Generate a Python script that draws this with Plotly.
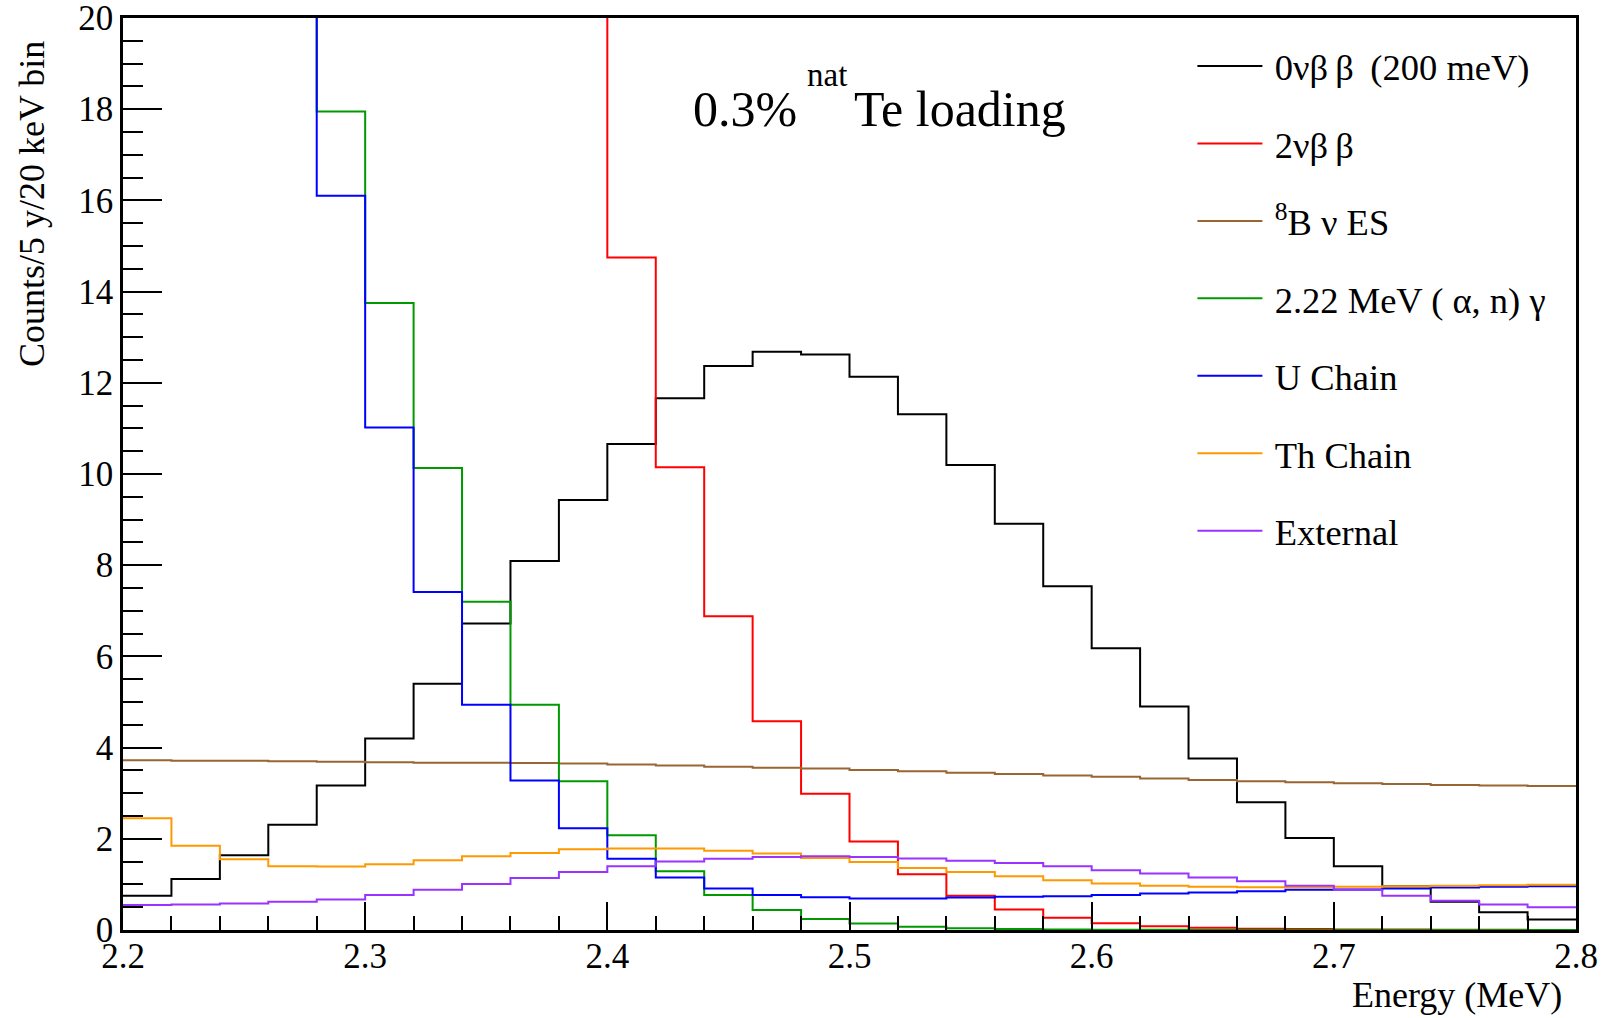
import plotly.graph_objects as go

# Bin edges (MeV), 20 keV bins
edges = [2.20, 2.22, 2.24, 2.26, 2.28, 2.30, 2.32, 2.34, 2.36, 2.38,
         2.40, 2.42, 2.44, 2.46, 2.48, 2.50, 2.52, 2.54, 2.56, 2.58,
         2.60, 2.62, 2.64, 2.66, 2.68, 2.70, 2.72, 2.74, 2.76, 2.78, 2.80]

# Counts per bin (bins above 20 are off scale in the figure)
zero_nu = [0.75, 1.12, 1.64, 2.31, 3.17, 4.20, 5.40, 6.72, 8.09, 9.43,
           10.66, 11.66, 12.37, 12.68, 12.62, 12.13, 11.31, 10.20, 8.91, 7.54,
           6.18, 4.90, 3.76, 2.80, 2.02, 1.40, 0.96, 0.62, 0.39, 0.23]
two_nu = [390, 270, 185, 128, 88, 61, 45, 33, 26, 21.5,
          14.75, 10.15, 6.88, 4.58, 2.99, 1.94, 1.22, 0.75, 0.45, 0.27,
          0.15, 0.08, 0.05, 0.03, 0.02, 0.01, 0.01, 0.005, 0.003, 0.002]
b8_es = [3.72, 3.71, 3.71, 3.70, 3.69, 3.68, 3.67, 3.67, 3.66, 3.65,
         3.63, 3.61, 3.58, 3.56, 3.54, 3.51, 3.48, 3.45, 3.42, 3.39,
         3.36, 3.32, 3.29, 3.26, 3.24, 3.22, 3.20, 3.18, 3.17, 3.16]
alpha_n = [95, 62, 40, 26, 17.95, 13.75, 10.13, 7.20, 4.94, 3.26,
           2.08, 1.29, 0.77, 0.44, 0.24, 0.14, 0.07, 0.04, 0.02, 0.01,
           0.005, 0.003, 0.002, 0.001, 0, 0, 0, 0, 0, 0]
u_chain = [80, 55, 38, 26, 16.10, 11.02, 7.41, 4.94, 3.28, 2.23,
           1.56, 1.15, 0.91, 0.77, 0.72, 0.69, 0.69, 0.71, 0.73, 0.74,
           0.77, 0.80, 0.82, 0.85, 0.88, 0.89, 0.91, 0.93, 0.95, 0.96]
th_chain = [2.45, 1.85, 1.55, 1.40, 1.39, 1.44, 1.53, 1.62, 1.69, 1.77,
            1.79, 1.79, 1.74, 1.68, 1.58, 1.49, 1.36, 1.27, 1.18, 1.09,
            1.02, 0.97, 0.95, 0.94, 0.93, 0.95, 0.96, 0.97, 0.98, 0.99]
external = [0.55, 0.56, 0.58, 0.62, 0.67, 0.77, 0.88, 1.01, 1.14, 1.27,
            1.40, 1.50, 1.56, 1.60, 1.62, 1.60, 1.57, 1.52, 1.47, 1.40,
            1.31, 1.24, 1.15, 1.07, 0.97, 0.88, 0.75, 0.64, 0.56, 0.50]

names = ["0νβ\u2009β\u2009 (200 meV)", "2νβ\u2009β", "<sup>8</sup>B ν ES", "2.22 MeV ( α, n) γ",
         "U Chain", "Th Chain", "External"]
series = [zero_nu, two_nu, b8_es, alpha_n, u_chain, th_chain, external]
colors = ["#000000", "#ff0000", "#996633", "#009900", "#0000ff", "#ff9900", "#9933ff"]

FONT = "Liberation Serif"

fig = go.Figure()

# One step histogram per component
for i in range(len(series)):
    vals = series[i]
    fig.add_trace(
        go.Scatter(
            x = edges,
            y = vals + [vals[-1]],
            name = "\u2009" + names[i],
            mode = "lines",
            line = dict(color = colors[i], width = 2, shape = "hv"),
            legendgroup = "g%d" % i
        )
    )

axis_style = dict(
    showline = True, linecolor = "black", linewidth = 2.5, mirror = True,
    showgrid = False, zeroline = False, automargin = False,
    ticks = "inside", tickcolor = "black", tickwidth = 2,
    tickfont = dict(family = FONT, size = 35, color = "black"),
    ticklabeloverflow = "allow",
)

fig.update_xaxes(
    range = [2.2, 2.8], tick0 = 2.2, dtick = 0.1, ticklen = 28, ticklabelstandoff = -7,
    minor = dict(ticks = "inside", dtick = 0.02, ticklen = 14, tickwidth = 2, tickcolor = "black"),
    **axis_style
)
fig.update_yaxes(
    range = [0, 20], tick0 = 0, dtick = 2, ticklen = 39,
    minor = dict(ticks = "inside", dtick = 0.5, ticklen = 20, tickwidth = 2, tickcolor = "black"),
    **axis_style
)

# Axis titles (ROOT style, at the end of the axes) and the label
fig.add_annotation(text = "Energy (MeV)", xref = "paper", yref = "paper", x = 0.992, y = -0.0717,
                   xanchor = "right", yanchor = "middle", showarrow = False,
                   font = dict(family = FONT, size = 36, color = "black"))
fig.add_annotation(text = "Counts/5 y/20 keV bin", xref = "paper", yref = "paper", x = -0.063, y = 0.9774,
                   xanchor = "center", yanchor = "top", textangle = -90, showarrow = False,
                   font = dict(family = FONT, size = 36, color = "black"))
fig.add_annotation(text = "0.3%", xref = "paper", yref = "paper", x = 0.391, y = 0.900,
                   xanchor = "left", yanchor = "middle", showarrow = False,
                   font = dict(family = FONT, size = 50, color = "black"))
fig.add_annotation(text = "nat", xref = "paper", yref = "paper", x = 0.4694, y = 0.9376,
                   xanchor = "left", yanchor = "middle", showarrow = False,
                   font = dict(family = FONT, size = 33, color = "black"))
fig.add_annotation(text = "Te loading", xref = "paper", yref = "paper", x = 0.502, y = 0.900,
                   xanchor = "left", yanchor = "middle", showarrow = False,
                   font = dict(family = FONT, size = 50, color = "black"))

fig.update_layout(
    width = 1612, height = 1018,
    margin = dict(l = 123, r = 36, t = 18, b = 88),
    plot_bgcolor = "white", paper_bgcolor = "white",
    legend = dict(
        x = 0.736, y = 0.9805, xanchor = "left", yanchor = "top",
        font = dict(family = FONT, size = 36.5, color = "black"),
        bgcolor = "rgba(0,0,0,0)", traceorder = "grouped", tracegroupgap = 27,
        itemwidth = 65
    )
)

# Page without the default body margin so the figure sits at the window corner
fig.write_html("out.html", config = {"displayModeBar": False},
               post_script = "document.body.style.margin='0';document.body.style.overflow='hidden';")
